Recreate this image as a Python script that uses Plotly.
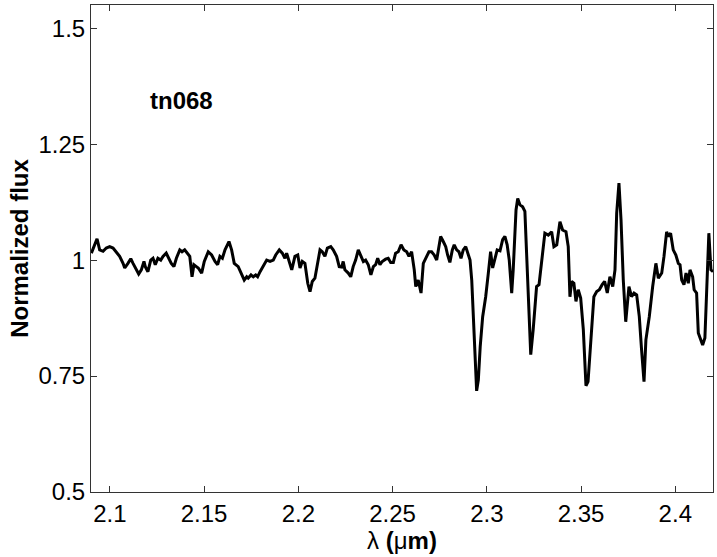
import plotly.graph_objects as go

wavelength = [
    2.0902, 2.0932, 2.0946, 2.0964, 2.0981, 2.0999, 2.1017, 2.1034, 2.1052, 2.1070,
    2.1079, 2.1096, 2.1111, 2.1123, 2.1140, 2.1153, 2.1167, 2.1181, 2.1188, 2.1202,
    2.1217, 2.1229, 2.1241, 2.1255, 2.1270, 2.1282, 2.1299, 2.1312, 2.1326, 2.1340,
    2.1353, 2.1371, 2.1383, 2.1397, 2.1411, 2.1424, 2.1436, 2.1446, 2.1459, 2.1469,
    2.1487, 2.1501, 2.1522, 2.1540, 2.1558, 2.1572, 2.1584, 2.1597, 2.1611, 2.1632,
    2.1646, 2.1660, 2.1681, 2.1699, 2.1713, 2.1726, 2.1734, 2.1749, 2.1761, 2.1774,
    2.1784, 2.1797, 2.1814, 2.1832, 2.1850, 2.1867, 2.1880, 2.1899, 2.1915, 2.1929,
    2.1938, 2.1950, 2.1965, 2.1982, 2.1997, 2.2009, 2.2021, 2.2035, 2.2050, 2.2062,
    2.2074, 2.2088, 2.2103, 2.2115, 2.2127, 2.2141, 2.2154, 2.2172, 2.2185, 2.2203,
    2.2217, 2.2230, 2.2238, 2.2247, 2.2265, 2.2278, 2.2291, 2.2304, 2.2318, 2.2331,
    2.2345, 2.2357, 2.2371, 2.2385, 2.2398, 2.2410, 2.2421, 2.2433, 2.2445, 2.2463,
    2.2477, 2.2490, 2.2504, 2.2516, 2.2530, 2.2545, 2.2560, 2.2575, 2.2587, 2.2601,
    2.2615, 2.2623, 2.2636, 2.2651, 2.2663, 2.2681, 2.2693, 2.2707, 2.2721, 2.2734,
    2.2746, 2.2755, 2.2769, 2.2782, 2.2792, 2.2804, 2.2817, 2.2827, 2.2840, 2.2852,
    2.2863, 2.2875, 2.2888, 2.2898, 2.2911, 2.2920, 2.2928, 2.2937, 2.2946, 2.2955,
    2.2965, 2.2978, 2.2994, 2.3008, 2.3020, 2.3031, 2.3043, 2.3055, 2.3070, 2.3084,
    2.3096, 2.3108, 2.3119, 2.3132, 2.3140, 2.3155, 2.3164, 2.3176, 2.3190, 2.3202,
    2.3211, 2.3220, 2.3233, 2.3246, 2.3264, 2.3277, 2.3291, 2.3308, 2.3326, 2.3344,
    2.3356, 2.3371, 2.3388, 2.3402, 2.3420, 2.3432, 2.3441, 2.3450, 2.3462, 2.3473,
    2.3485, 2.3498, 2.3512, 2.3526, 2.3537, 2.3553, 2.3568, 2.3583, 2.3597, 2.3612,
    2.3625, 2.3639, 2.3653, 2.3668, 2.3680, 2.3689, 2.3701, 2.3712, 2.3724, 2.3737,
    2.3754, 2.3768, 2.3781, 2.3795, 2.3809, 2.3821, 2.3834, 2.3844, 2.3862, 2.3880,
    2.3897, 2.3910, 2.3928, 2.3940, 2.3954, 2.3963, 2.3975, 2.3989, 2.4003, 2.4016,
    2.4025, 2.4034, 2.4046, 2.4057, 2.4069, 2.4078, 2.4092, 2.4100, 2.4113, 2.4122,
    2.4134, 2.4145, 2.4157, 2.4166, 2.4178, 2.4189, 2.4200,
]

flux = [
    1.015, 1.046, 1.022, 1.019, 1.026, 1.029, 1.026, 1.018, 1.008, 0.993,
    0.983, 0.993, 1.003, 0.993, 0.979, 0.970, 0.979, 0.997, 0.986, 0.975,
    1.000, 1.004, 0.990, 1.004, 1.000, 1.008, 1.015, 1.004, 0.993, 0.986,
    1.004, 1.022, 1.018, 1.022, 1.015, 1.008, 0.964, 0.990, 0.986, 0.983,
    0.972, 0.997, 1.018, 1.011, 0.997, 0.990, 1.008, 1.004, 1.022, 1.040,
    1.022, 0.993, 0.986, 0.968, 0.957, 0.964, 0.961, 0.968, 0.964, 0.968,
    0.964, 0.975, 0.986, 1.000, 0.997, 1.000, 1.011, 1.022, 1.015, 1.004,
    1.015, 0.997, 0.979, 1.008, 1.011, 0.983, 0.997, 0.993, 0.950, 0.932,
    0.954, 0.961, 0.993, 1.022, 1.018, 1.008, 1.026, 1.029, 1.022, 1.008,
    0.986, 0.985, 0.997, 0.979, 0.972, 0.964, 0.986, 1.000, 1.022, 1.011,
    0.997, 1.000, 0.990, 0.968, 0.986, 0.990, 1.004, 0.990, 0.997, 1.002,
    1.004, 0.995, 0.995, 1.015, 1.018, 1.033, 1.022, 1.018, 1.008, 1.018,
    0.979, 0.943, 0.957, 0.929, 0.993, 1.008, 1.018, 1.018, 1.011, 1.000,
    1.029, 1.051, 1.040, 1.029, 1.011, 0.995, 1.022, 1.033, 1.022, 1.018,
    1.004, 1.022, 1.029, 1.018, 1.000, 0.957, 0.886, 0.778, 0.718, 0.742,
    0.814, 0.878, 0.921, 0.972, 1.018, 0.983, 1.006, 1.022, 1.020, 1.044,
    1.051, 1.033, 1.000, 0.929, 0.979, 1.108, 1.133, 1.119, 1.115, 1.105,
    1.015, 0.921, 0.796, 0.850, 0.943, 0.947, 0.993, 1.058, 1.054, 1.061,
    1.029, 1.033, 1.083, 1.065, 1.061, 1.029, 0.921, 0.954, 0.950, 0.911,
    0.936, 0.918, 0.850, 0.729, 0.738, 0.835, 0.921, 0.932, 0.936, 0.947,
    0.954, 0.929, 0.964, 0.943, 0.979, 1.101, 1.166, 1.087, 0.957, 0.867,
    0.943, 0.921, 0.929, 0.925, 0.878, 0.807, 0.738, 0.828, 0.878, 0.943,
    0.993, 0.961, 0.972, 1.008, 1.061, 1.051, 1.058, 1.022, 1.011, 0.993,
    0.990, 0.957, 0.947, 0.972, 0.950, 0.979, 0.964, 0.936, 0.929, 0.843,
    0.828, 0.817, 0.832, 0.921, 1.058, 0.979, 0.975,
]

x_ticks = [2.1, 2.15, 2.2, 2.25, 2.3, 2.35, 2.4]
x_tick_labels = ["2.1", "2.15", "2.2", "2.25", "2.3", "2.35", "2.4"]
y_ticks = [0.5, 0.75, 1.0, 1.25, 1.5]
y_tick_labels = ["0.5", "0.75", "1", "1.25", "1.5"]

star_label = "tn068"
x_title = "λ <b>(</b>μ<b>m)</b>"
y_title = "<b>Normalized flux</b>"

FONT = "Liberation Sans, Arial, Helvetica, sans-serif"

fig = go.Figure()
fig.add_trace(go.Scatter(
    x=wavelength, y=flux, mode="lines",
    line=dict(color="black", width=3),
    showlegend=False, hoverinfo="skip",
))

fig.add_annotation(
    x=2.1202, y=1.345, xref="x", yref="y", text="<b>" + star_label + "</b>",
    showarrow=False, xanchor="left", yanchor="middle",
    font=dict(family=FONT, size=24, color="black"),
)

axis_common = dict(
    showgrid=False, zeroline=False, showline=True, linecolor="#333333", linewidth=1,
    mirror="ticks", ticks="inside", ticklen=6, tickcolor="#333333",
    tickfont=dict(family=FONT, size=24, color="black"),
)

fig.update_xaxes(
    range=[2.09, 2.42], tickvals=x_ticks, ticktext=x_tick_labels,
    title=dict(text=x_title, font=dict(family=FONT, size=24, color="black"), standoff=0),
    **axis_common,
)
fig.update_yaxes(
    range=[0.5, 1.55], tickvals=y_ticks, ticktext=y_tick_labels,
    title=dict(text=y_title, font=dict(family=FONT, size=24, color="black"), standoff=3),
    **axis_common,
)

fig.update_layout(
    width=717, height=557,
    margin=dict(l=91, r=4, t=5, b=65),
    paper_bgcolor="white", plot_bgcolor="white",
)

fig.write_html(
    "out.html",
    config={"displayModeBar": False},
    post_script="document.body.style.margin='0';",
)
